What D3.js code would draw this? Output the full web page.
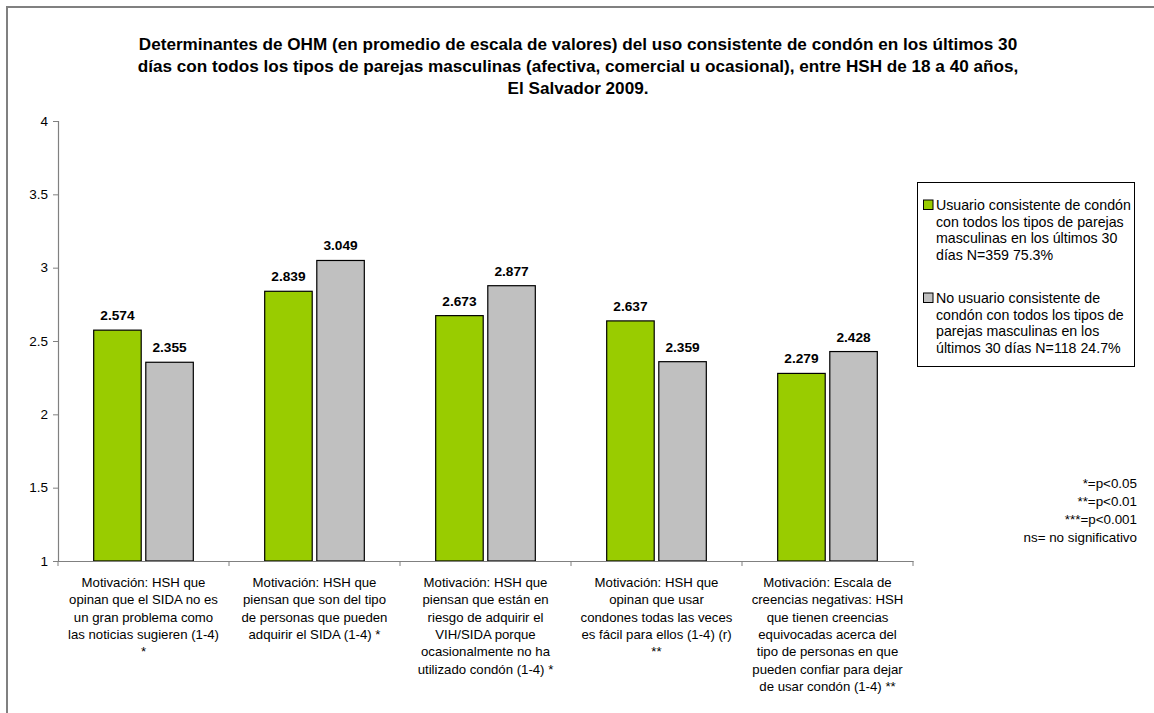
<!DOCTYPE html>
<html>
<head>
<meta charset="utf-8">
<script src="https://cdn.jsdelivr.net/npm/d3@7"></script>
<style>
  html, body { margin: 0; padding: 0; background: #fff; }
  svg { display: block; }
  text { font-family: Arial, "Liberation Sans", sans-serif; fill: #000; }
</style>
</head>
<body>
<svg id="chart" width="1154" height="713"></svg>
<script>
// ---- data ----
const titleLines = [
  "Determinantes de OHM (en promedio de escala de valores) del uso consistente de condón en los últimos 30",
  "días con todos los tipos de parejas masculinas (afectiva, comercial u ocasional), entre HSH de 18 a 40 años,",
  "El Salvador 2009."
];
const categories = ["c1", "c2", "c3", "c4", "c5"];
const categoryLabels = [
  ["Motivación: HSH que", "opinan que el SIDA no es", "un gran problema como", "las noticias sugieren (1-4)", "*"],
  ["Motivación: HSH que", "piensan que son del tipo", "de personas que pueden", "adquirir el SIDA (1-4) *"],
  ["Motivación: HSH que", "piensan que están en", "riesgo de adquirir el", "VIH/SIDA porque", "ocasionalmente no ha", "utilizado condón (1-4) *"],
  ["Motivación: HSH que", "opinan que usar", "condones todas las veces", "es fácil para ellos (1-4) (r)", "**"],
  ["Motivación: Escala de", "creencias negativas: HSH", "que tienen creencias", "equivocadas acerca del", "tipo de personas en que", "pueden confiar para dejar", "de usar condón (1-4) **"]
];
const seriesKeys = ["usuario", "noUsuario"];
const usuarioValues = [2.574, 2.839, 2.673, 2.637, 2.279];
const noUsuarioValues = [2.355, 3.049, 2.877, 2.359, 2.428];
const seriesColors = ["#99CC00", "#C0C0C0"];
const legendLines = [
  ["Usuario consistente de condón", "con todos los tipos de parejas", "masculinas en los últimos 30", "días N=359 75.3%"],
  ["No usuario consistente de", "condón con todos los tipos de", "parejas masculinas en los", "últimos 30 días N=118 24.7%"]
];
const yTicks = [1, 1.5, 2, 2.5, 3, 3.5, 4];
const footnoteLines = ["*=p<0.05", "**=p<0.01", "***=p<0.001", "ns= no significativo"];

// ---- drawing ----
const svg = d3.select("#chart");
const plot = { left: 58, right: 913, top: 121, bottom: 561 };

// outer frame
svg.append("rect")
  .attr("x", 7).attr("y", 7).attr("width", 1300).attr("height", 900)
  .attr("fill", "#fff").attr("stroke", "#808080").attr("stroke-width", 2);

// title (font size fitted so the first line spans the same width as the original)
const title = svg.append("text")
  .attr("text-anchor", "middle")
  .style("font-weight", "bold").style("font-size", "14.5px");
titleLines.forEach((t, i) => {
  title.append("tspan").attr("x", 578).attr("y", 50 + i * 22).text(t);
});
const firstW = title.select("tspan").node().getComputedTextLength();
if (firstW > 0) title.style("font-size", (14.5 * 879 / firstW).toFixed(2) + "px");

const y = d3.scaleLinear().domain([1, 4]).range([plot.bottom, plot.top]);
const x0 = d3.scaleBand().domain(categories).range([plot.left, plot.right]).padding(0);
const x1 = d3.scaleBand().domain(seriesKeys).range([0, x0.bandwidth()])
  .paddingInner(0.088).paddingOuter(0.685);

const values = { usuario: usuarioValues, noUsuario: noUsuarioValues };
const color = d3.scaleOrdinal().domain(seriesKeys).range(seriesColors);

// bars
const groups = svg.append("g").selectAll("g")
  .data(categories).join("g")
  .attr("transform", d => `translate(${x0(d)},0)`);

groups.selectAll("rect")
  .data((d, i) => seriesKeys.map(k => ({ key: k, value: values[k][i] })))
  .join("rect")
  .attr("x", d => x1(d.key))
  .attr("y", d => y(d.value))
  .attr("width", x1.bandwidth())
  .attr("height", d => y(1) - y(d.value))
  .attr("fill", d => color(d.key))
  .attr("stroke", "#000").attr("stroke-width", 1.2);

groups.selectAll("text.val")
  .data((d, i) => seriesKeys.map(k => ({ key: k, value: values[k][i] })))
  .join("text").attr("class", "val")
  .attr("x", d => x1(d.key) + x1.bandwidth() / 2)
  .attr("y", d => y(d.value) - 10)
  .attr("text-anchor", "middle")
  .style("font-weight", "bold").style("font-size", "13.7px")
  .text(d => d3.format(".3f")(d.value));

// y axis
const yAxis = svg.append("g")
  .attr("transform", `translate(${plot.left},0)`)
  .call(d3.axisLeft(y).tickValues(yTicks).tickFormat(d3.format("")).tickSize(5).tickPadding(5));
yAxis.select(".domain").attr("stroke", "#808080").attr("stroke-width", 1.2);
yAxis.selectAll(".tick line").attr("stroke", "#808080");
yAxis.selectAll(".tick text").style("font-size", "13.5px").attr("fill", "#000")
  .style("font-family", "Arial, 'Liberation Sans', sans-serif");

// x axis
const xAxis = svg.append("g")
  .attr("transform", `translate(0,${plot.bottom})`)
  .call(d3.axisBottom(x0).tickSize(0).tickFormat(""));
xAxis.select(".domain").attr("stroke", "#808080").attr("stroke-width", 1.2);
xAxis.selectAll(".tick").remove();
const boundaries = categories.map(c => x0(c)).concat([x0(categories[categories.length - 1]) + x0.bandwidth()]);
xAxis.selectAll("line.bt").data(boundaries).join("line").attr("class", "bt")
  .attr("x1", d => d).attr("x2", d => d).attr("y1", 0).attr("y2", 5)
  .attr("stroke", "#808080");

// category labels
categories.forEach((c, i) => {
  const t = svg.append("text").attr("text-anchor", "middle").style("font-size", "13.2px");
  categoryLabels[i].forEach((line, j) => {
    t.append("tspan").attr("x", x0(c) + x0.bandwidth() / 2).attr("y", 587 + j * 17.3).text(line);
  });
});

// legend
const lg = svg.append("g");
lg.append("rect").attr("x", 917.5).attr("y", 182.5).attr("width", 217).attr("height", 184)
  .attr("fill", "#fff").attr("stroke", "#000").attr("stroke-width", 1);
legendLines.forEach((lines, i) => {
  const top = 205 + i * 93;
  lg.append("rect").attr("x", 923.5).attr("y", top - 5).attr("width", 9.5).attr("height", 9.5)
    .attr("fill", seriesColors[i]).attr("stroke", "#000").attr("stroke-width", 1);
  const t = lg.append("text").style("font-size", "14.2px");
  lines.forEach((line, j) => {
    t.append("tspan").attr("x", 936).attr("y", top + 5 + j * 16.5).text(line);
  });
});

// footnote
const fn = svg.append("text").attr("text-anchor", "end").style("font-size", "13.4px");
footnoteLines.forEach((line, i) => {
  fn.append("tspan").attr("x", 1137).attr("y", 488 + i * 18).text(line);
});
</script>
</body>
</html>
